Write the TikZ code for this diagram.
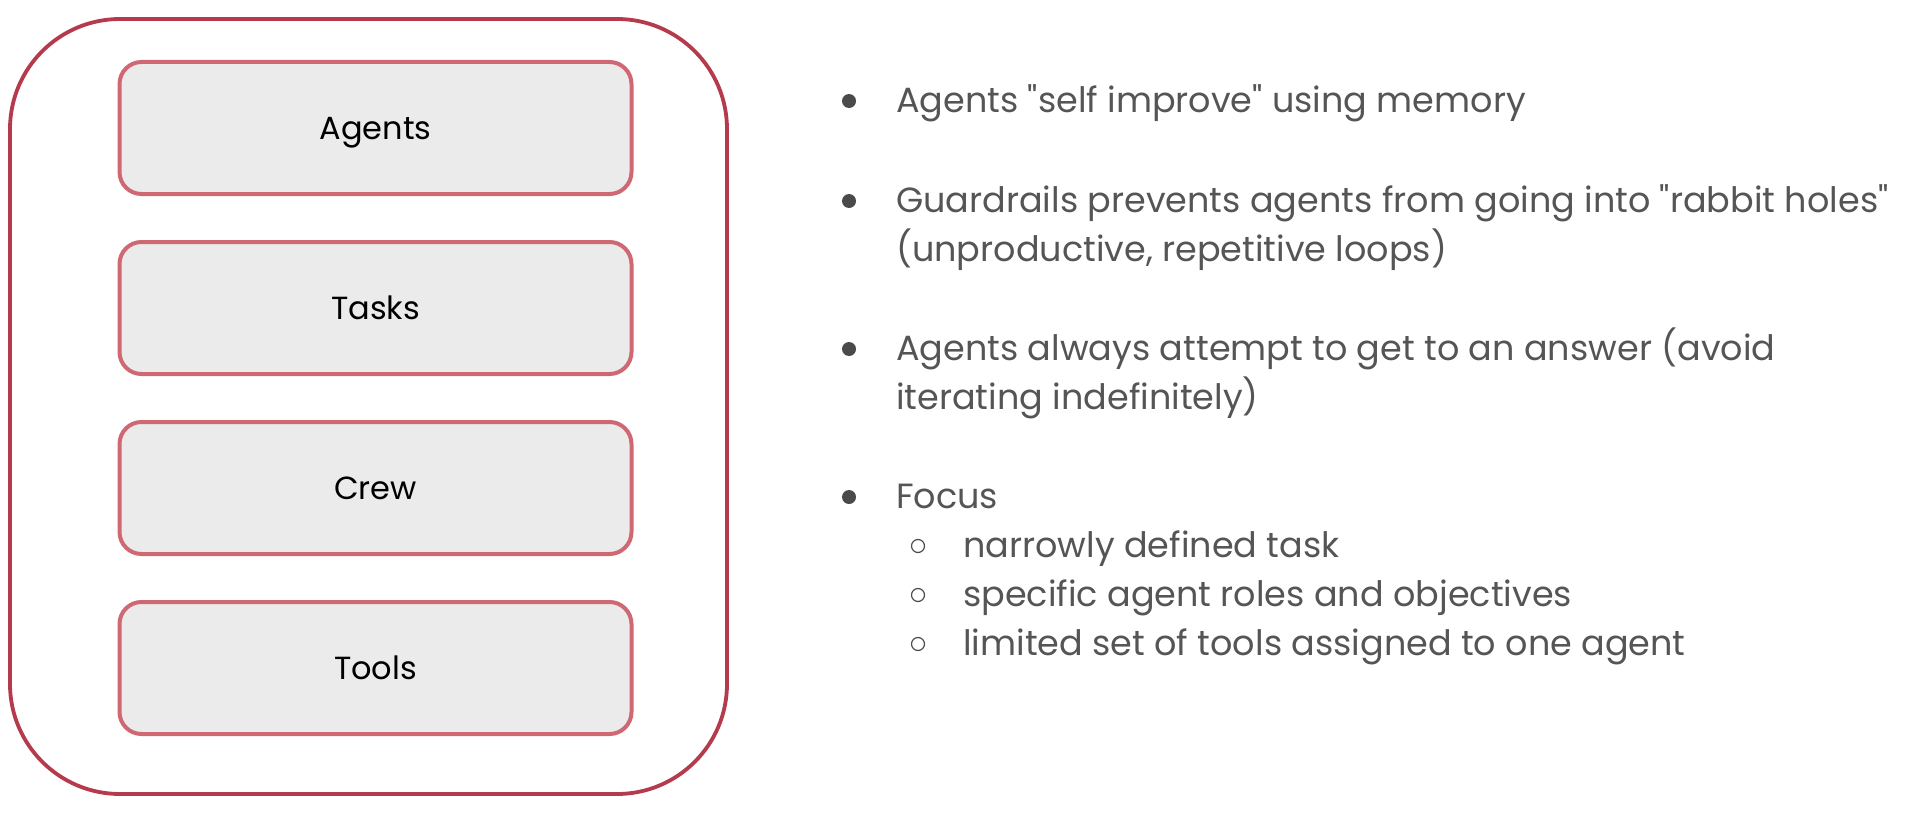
\documentclass[tikz,border=0pt]{standalone}
\usepackage{fontspec}
\setmainfont{Poppins}[Ligatures=TeXOff]
\usetikzlibrary{positioning}
\definecolor{framered}{HTML}{B53A4C}
\definecolor{partred}{HTML}{D06873}
\definecolor{partfill}{HTML}{EBEBEB}
\definecolor{textgray}{HTML}{555555}
\definecolor{dotgray}{HTML}{4A4A4A}

\begin{document}
\begin{tikzpicture}[x=1pt,y=-1pt,
  frame/.style={draw=framered,line width=3.8pt,rounded corners=110pt,
    minimum width=717pt,minimum height=775pt,inner sep=0pt},
  part/.style={draw=partred,fill=partfill,line width=4pt,rounded corners=22pt,
    minimum width=512pt,minimum height=132pt,inner sep=0pt,
    text height=22pt,text depth=0pt,
    font=\fontsize{32}{38}\selectfont},
  point/.style={anchor=base west,inner sep=0pt,text=textgray,
    font=\fontsize{35}{42}\selectfont},
  dot/.style={circle,fill=dotgray,inner sep=0pt,minimum size=14pt},
  subdot/.style={circle,draw=dotgray,line width=1.2pt,inner sep=0pt,minimum size=13pt},
  node distance=44pt]
  \useasboundingbox (0,0) rectangle (1932,816);

  % left: the building blocks
  \node[frame] (frame) at (368.5,406.5) {};
  \node[part] (agents) at (375.5,128) {Agents};
  \node[part,below=of agents] (tasks) {Tasks};
  \node[part,below=of tasks] (crew) {Crew};
  \node[part,below=of crew] (tools) {Tools};

  % right: notes
  \node[dot] (d1) at (849,101) {};
  \node[point] (p1) at (896,112) {Agents "self improve" using memory};
  \node[dot] (d2) at (849,201) {};
  \node[point] (p2) at (896,212) {Guardrails prevents agents from going into "rabbit holes"};
  \node[point] (p2b) at (896,261) {(unproductive, repetitive loops)};
  \node[dot] (d3) at (849,349) {};
  \node[point] (p3) at (896,360) {Agents always attempt to get to an answer (avoid};
  \node[point] (p3b) at (896,409) {iterating indefinitely)};
  \node[dot] (d4) at (849,497) {};
  \node[point] (p4) at (896,508) {Focus};
  \foreach \y/\txt [count=\i] in {557/narrowly defined task,
      606/specific agent roles and objectives,
      655/limited set of tools assigned to one agent}{
    \node[subdot] (s\i) at (918,\y-11) {};
    \node[point] (q\i) at (963,\y) {\txt};
  }
\end{tikzpicture}
\end{document}
